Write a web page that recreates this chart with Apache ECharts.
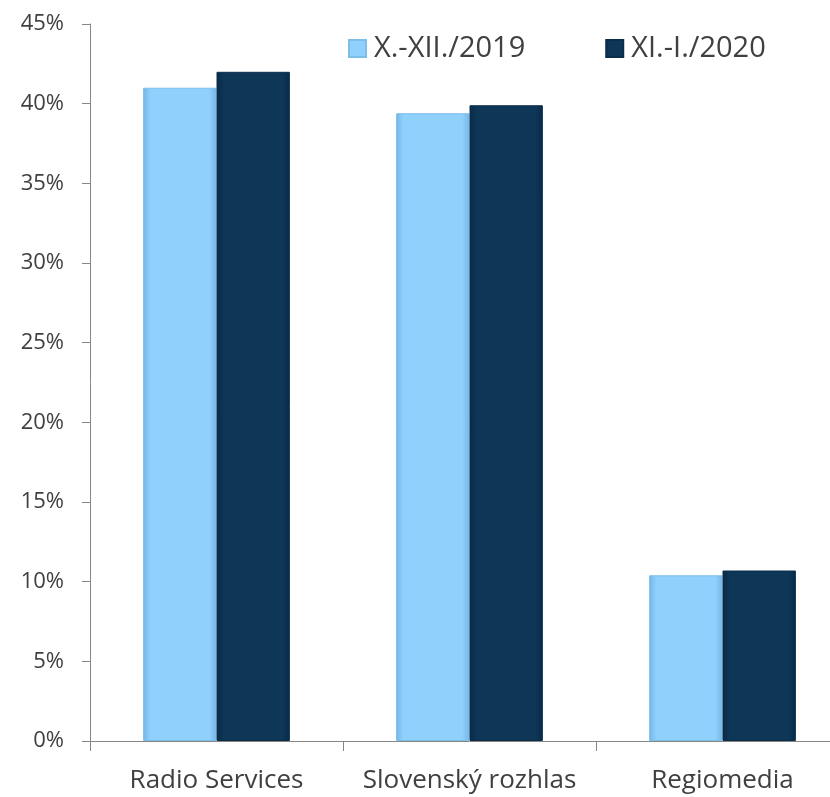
<!DOCTYPE html>
<html><head><meta charset="utf-8">
<script src="https://cdn.jsdelivr.net/npm/echarts@6/dist/echarts.min.js"></script>
<style>html,body{margin:0;padding:0;background:#fff;overflow:hidden}#c{width:849px;height:797px}</style>
</head><body><div id="c"></div>
<script>
const categories = ['Radio Services', 'Slovenský rozhlas', 'Regiomedia'];
const seriesNames = ['X.-XII./2019', 'XI.-I./2020'];
const values2019 = [41.0, 39.4, 10.4];
const values2020 = [42.0, 39.9, 10.7];
const yTicks = [0, 5, 10, 15, 20, 25, 30, 35, 40, 45];

const font = '"Open Sans", "Liberation Sans", sans-serif';
const chart = echarts.init(document.getElementById('c'));
function grad(edge, mid) {
  return new echarts.graphic.LinearGradient(0, 0, 1, 0, [
    {offset: 0, color: edge}, {offset: 0.1, color: mid}, {offset: 0.9, color: mid}, {offset: 1, color: edge}
  ]);
}
chart.setOption({
  animation: false,
  legend: {
    left: 343, top: 29, itemWidth: 17, itemHeight: 17, itemGap: 80, icon: 'rect',
    textStyle: {fontSize: 29, color: '#404040', fontFamily: font, padding: [0, 0, 0, 3]},
    data: seriesNames
  },
  grid: {left: 90, top: 24, right: 0, bottom: 56, containLabel: false},
  xAxis: {
    type: 'category', data: categories,
    axisLine: {lineStyle: {color: '#868686', width: 1}},
    axisTick: {show: true, length: 10, alignWithLabel: false, lineStyle: {color: '#868686'}},
    axisLabel: {fontSize: 26, color: '#404040', fontFamily: font, margin: 27, interval: 0}
  },
  yAxis: {
    type: 'value', min: 0, max: 45, interval: 5,
    axisLine: {show: true, lineStyle: {color: '#868686', width: 1}},
    axisTick: {show: true, length: 8, lineStyle: {color: '#868686'}},
    splitLine: {show: false},
    axisLabel: {fontSize: 22, color: '#404040', fontFamily: font, margin: 26, formatter: v => v + '%'}
  },
  series: [
    {name: seriesNames[0], type: 'bar', data: values2019, barGap: '0%', barCategoryGap: '42%',
     itemStyle: {color: grad('#74b6e6', '#8fd0fd'), borderColor: '#7cbde9', borderWidth: 1}},
    {name: seriesNames[1], type: 'bar', data: values2020,
     itemStyle: {color: grad('#082a47', '#0e3657'), borderColor: '#0a2d4a', borderWidth: 1}}
  ]
});
</script></body></html>
